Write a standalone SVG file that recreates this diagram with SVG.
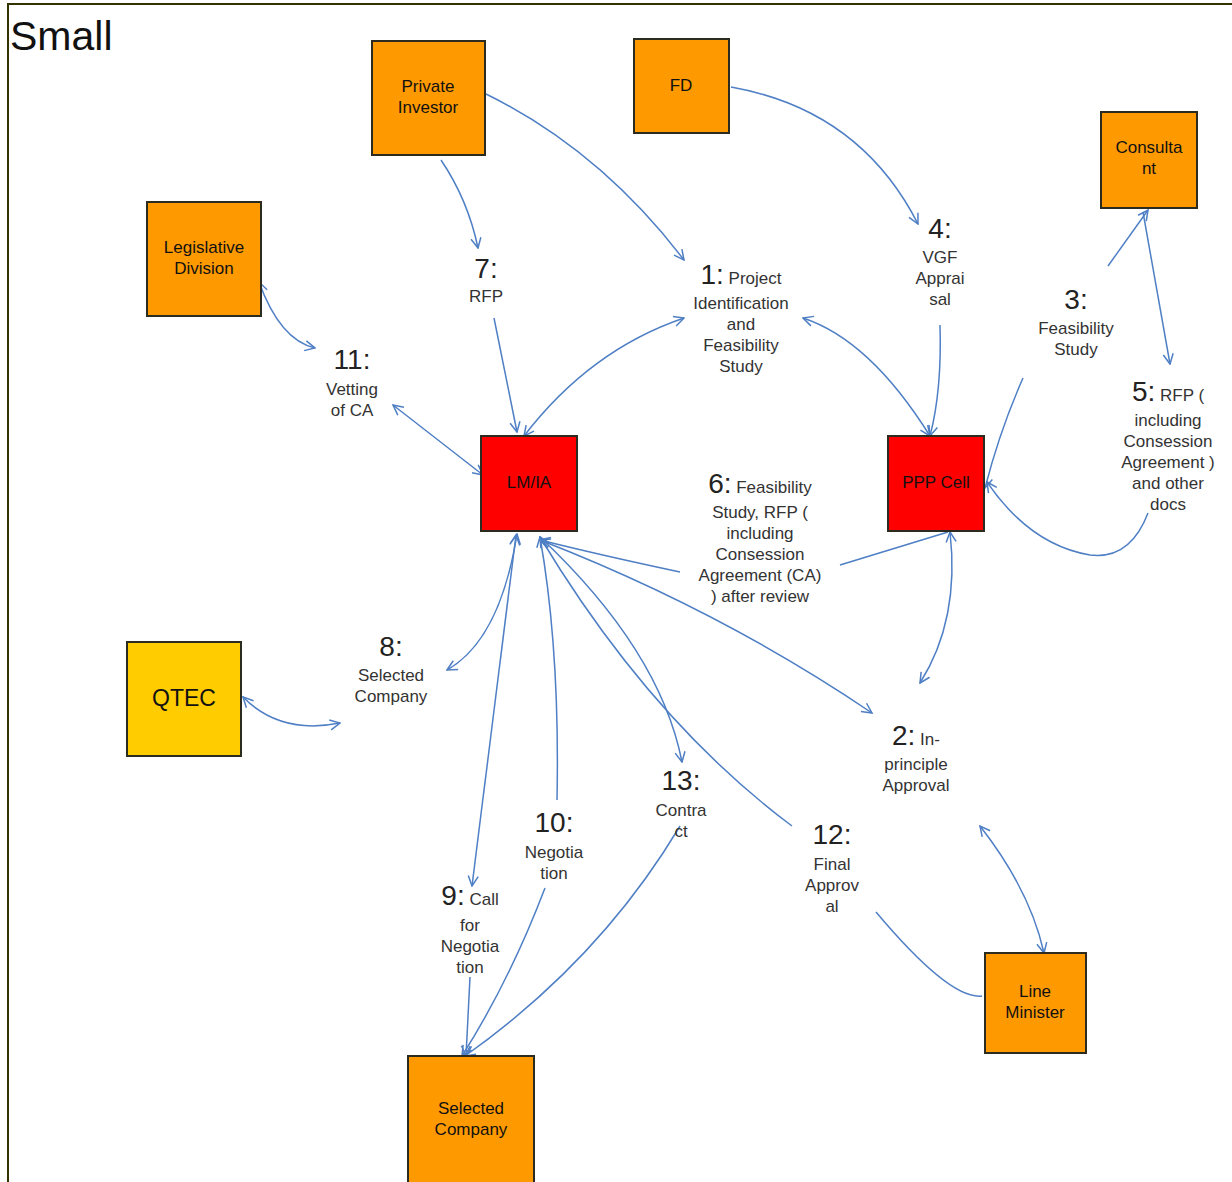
<svg xmlns="http://www.w3.org/2000/svg" width="1232" height="1182" viewBox="0 0 1232 1182">
<defs>
<style>
.node{stroke:#2b2b20;stroke-width:2}
.o{fill:#ff9900}
.r{fill:#ff0000}
.y{fill:#ffcc00}
.nt{font-family:"Liberation Sans",Arial,sans-serif;font-size:17px;fill:#111;text-anchor:middle}
.num{font-family:"Liberation Sans",Arial,sans-serif;font-size:28px;fill:#222}
.lt{font-family:"Liberation Sans",Arial,sans-serif;font-size:17px;fill:#333;text-anchor:middle}
.c path{fill:none;stroke:#4f7fc4;stroke-width:1.5}
</style>
<marker id="a" viewBox="0 0 12 12" refX="11" refY="6" markerWidth="12" markerHeight="12" markerUnits="userSpaceOnUse" orient="auto-start-reverse">
<path d="M1,1 L11,6 L1,11" fill="none" stroke="#4f7fc4" stroke-width="1.5"/>
</marker>
</defs>
<rect x="0" y="0" width="1232" height="1182" fill="#fff"/>
<rect x="8" y="4" width="1240" height="1200" fill="none" stroke="#333300" stroke-width="2"/>
<text x="10" y="50" font-family="Liberation Sans,Arial,sans-serif" font-size="41" fill="#111">Small</text>

<g class="c" id="connectors">
<path d="M441,160 Q468,200 478,248" marker-end="url(#a)"/>
<path d="M494,318 L517,432" marker-end="url(#a)"/>
<path d="M486,94 Q600,150 684,260" marker-end="url(#a)"/>
<path d="M524,436 Q590,350 684,318" marker-start="url(#a)" marker-end="url(#a)"/>
<path d="M803,318 Q870,340 930,436" marker-start="url(#a)" marker-end="url(#a)"/>
<path d="M731,87 Q860,110 918,224" marker-end="url(#a)"/>
<path d="M940,325 Q942,390 930,436" marker-end="url(#a)"/>
<path d="M1108,266 L1148,210" marker-end="url(#a)"/>
<path d="M1023,378 Q1000,430 985,488" marker-end="url(#a)"/>
<path d="M1143,212 L1170,364" marker-end="url(#a)"/>
<path d="M1148,513 Q1130,560 1090,555 Q1030,545 987,482" marker-end="url(#a)"/>
<path d="M840,565 L948,532"/>
<path d="M950,532 Q960,620 920,683" marker-start="url(#a)" marker-end="url(#a)"/>
<path d="M680,572 Q600,555 540,540" marker-end="url(#a)"/>
<path d="M540,540 Q720,610 872,713" marker-start="url(#a)" marker-end="url(#a)"/>
<path d="M517,534 Q500,640 447,670" marker-start="url(#a)" marker-end="url(#a)"/>
<path d="M243,697 Q280,735 340,723" marker-start="url(#a)" marker-end="url(#a)"/>
<path d="M516,535 L472,886" marker-start="url(#a)" marker-end="url(#a)"/>
<path d="M470,977 L466,1056" marker-end="url(#a)"/>
<path d="M557,800 Q560,650 540,537" marker-end="url(#a)"/>
<path d="M545,888 Q510,980 462,1056" marker-end="url(#a)"/>
<path d="M680,826 Q600,960 465,1056" marker-end="url(#a)"/>
<path d="M540,537 Q660,650 682,762" marker-end="url(#a)"/>
<path d="M792,826 Q650,720 540,537" marker-end="url(#a)"/>
<path d="M982,996 Q950,1000 876,912"/>
<path d="M980,826 Q1030,890 1044,953" marker-start="url(#a)" marker-end="url(#a)"/>
<path d="M259,282 Q280,340 315,348" marker-start="url(#a)" marker-end="url(#a)"/>
<path d="M393,405 L483,475" marker-start="url(#a)" marker-end="url(#a)"/>
</g>

<g id="private-investor"><rect class="node o" x="372" y="41" width="113" height="114"/><text class="nt" x="428" y="92">Private</text><text class="nt" x="428" y="113">Investor</text></g>
<g id="fd"><rect class="node o" x="634" y="39" width="95" height="94"/><text class="nt" x="681" y="91">FD</text></g>
<g id="consultant"><rect class="node o" x="1101" y="112" width="96" height="96"/><text class="nt" x="1149" y="153">Consulta</text><text class="nt" x="1149" y="174">nt</text></g>
<g id="legislative"><rect class="node o" x="147" y="202" width="114" height="114"/><text class="nt" x="204" y="253">Legislative</text><text class="nt" x="204" y="274">Division</text></g>
<g id="lmia"><rect class="node r" x="481" y="436" width="96" height="95"/><text class="nt" x="529" y="488">LM/IA</text></g>
<g id="ppp"><rect class="node r" x="888" y="436" width="96" height="95"/><text class="nt" x="936" y="488">PPP Cell</text></g>
<g id="qtec"><rect class="node y" x="127" y="642" width="114" height="114"/><text class="nt" x="184" y="706" style="font-size:23px">QTEC</text></g>
<g id="selected-company"><rect class="node o" x="408" y="1056" width="126" height="140"/><text class="nt" x="471" y="1114">Selected</text><text class="nt" x="471" y="1135">Company</text></g>
<g id="line-minister"><rect class="node o" x="985" y="953" width="101" height="100"/><text class="nt" x="1035" y="997">Line</text><text class="nt" x="1035" y="1018">Minister</text></g>

<g id="labels">
<text class="num" x="486" y="278" text-anchor="middle">7:</text><text class="lt" x="486" y="302">RFP</text>
<text class="lt" x="741" y="284"><tspan class="num">1:</tspan> Project</text>
<text class="lt" x="741" y="309">Identification</text><text class="lt" x="741" y="330">and</text><text class="lt" x="741" y="351">Feasibility</text><text class="lt" x="741" y="372">Study</text>
<text class="num" x="940" y="238" text-anchor="middle">4:</text><text class="lt" x="940" y="263">VGF</text><text class="lt" x="940" y="284">Apprai</text><text class="lt" x="940" y="305">sal</text>
<text class="num" x="1076" y="309" text-anchor="middle">3:</text><text class="lt" x="1076" y="334">Feasibility</text><text class="lt" x="1076" y="355">Study</text>
<text class="lt" x="1168" y="401"><tspan class="num">5:</tspan>  RFP (</text>
<text class="lt" x="1168" y="426">including</text><text class="lt" x="1168" y="447">Consession</text><text class="lt" x="1168" y="468">Agreement )</text><text class="lt" x="1168" y="489">and other</text><text class="lt" x="1168" y="510">docs</text>
<text class="num" x="352" y="369" text-anchor="middle">11:</text><text class="lt" x="352" y="395">Vetting</text><text class="lt" x="352" y="416">of CA</text>
<text class="lt" x="760" y="493"><tspan class="num">6:</tspan> Feasibility</text>
<text class="lt" x="760" y="518">Study, RFP (</text><text class="lt" x="760" y="539">including</text><text class="lt" x="760" y="560">Consession</text><text class="lt" x="760" y="581">Agreement (CA)</text><text class="lt" x="760" y="602">) after review</text>
<text class="num" x="391" y="656" text-anchor="middle">8:</text><text class="lt" x="391" y="681">Selected</text><text class="lt" x="391" y="702">Company</text>
<text class="lt" x="916" y="745"><tspan class="num">2:</tspan> In-</text>
<text class="lt" x="916" y="770">principle</text><text class="lt" x="916" y="791">Approval</text>
<text class="num" x="681" y="790" text-anchor="middle">13:</text><text class="lt" x="681" y="816">Contra</text><text class="lt" x="681" y="837">ct</text>
<text class="num" x="832" y="844" text-anchor="middle">12:</text><text class="lt" x="832" y="870">Final</text><text class="lt" x="832" y="891">Approv</text><text class="lt" x="832" y="912">al</text>
<text class="num" x="554" y="832" text-anchor="middle">10:</text><text class="lt" x="554" y="858">Negotia</text><text class="lt" x="554" y="879">tion</text>
<text class="lt" x="470" y="905"><tspan class="num">9:</tspan> Call</text>
<text class="lt" x="470" y="931">for</text><text class="lt" x="470" y="952">Negotia</text><text class="lt" x="470" y="973">tion</text>
</g>
</svg>
